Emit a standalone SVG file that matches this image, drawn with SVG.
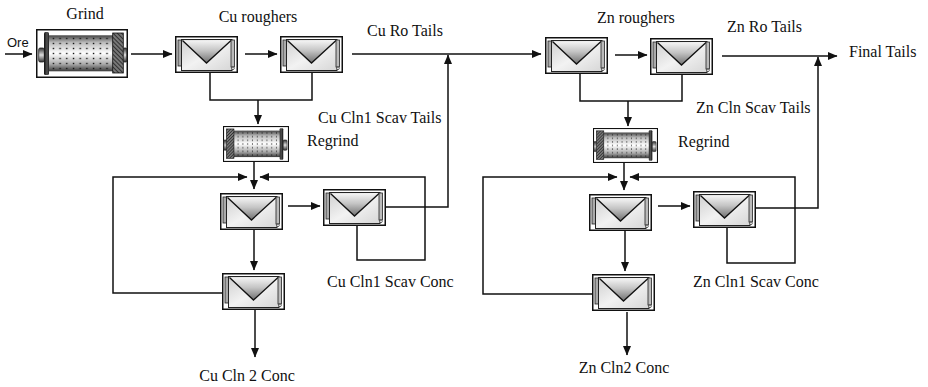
<svg xmlns="http://www.w3.org/2000/svg" width="928" height="387" viewBox="0 0 928 387">
<style>
 .t{font-family:"Liberation Serif","Times New Roman",serif;font-size:16px;fill:#111}
 .s{font-family:"Liberation Sans",Arial,sans-serif;font-size:13px;fill:#111}
 .c{fill:none;stroke:#111;stroke-width:1.5}
 .a{marker-end:url(#ah)}
</style>
<defs>
 <marker id="ah" markerWidth="10" markerHeight="8" refX="9" refY="4" orient="auto" markerUnits="userSpaceOnUse"><path d="M0,0 L9.5,4 L0,8 Z" fill="#111"/></marker>
 <linearGradient id="tank" x1="0" y1="0" x2="1" y2="1"><stop offset="0" stop-color="#cfcfcf"/><stop offset="0.5" stop-color="#f2f2f2"/><stop offset="1" stop-color="#d6d6d6"/></linearGradient>
 <linearGradient id="vee" x1="0" y1="0" x2="0" y2="1"><stop offset="0" stop-color="#f4f4f4"/><stop offset="0.45" stop-color="#c4c4c4"/><stop offset="1" stop-color="#6f6f6f"/></linearGradient>
 <linearGradient id="drum" x1="0" y1="0" x2="0" y2="1"><stop offset="0" stop-color="#444"/><stop offset="0.2" stop-color="#bbb"/><stop offset="0.5" stop-color="#fff"/><stop offset="0.8" stop-color="#aaa"/><stop offset="1" stop-color="#3a3a3a"/></linearGradient>
 <linearGradient id="flange" x1="0" y1="0" x2="1" y2="0"><stop offset="0" stop-color="#111"/><stop offset="0.6" stop-color="#555"/><stop offset="1" stop-color="#222"/></linearGradient>
 <linearGradient id="trun" x1="0" y1="0" x2="0" y2="1"><stop offset="0" stop-color="#333"/><stop offset="0.5" stop-color="#ddd"/><stop offset="1" stop-color="#333"/></linearGradient>
 <pattern id="dots" width="6.7" height="5" patternUnits="userSpaceOnUse" x="14" y="7"><rect x="2.7" y="1.8" width="1.4" height="1.4" fill="#111"/></pattern>
 <pattern id="hatch" width="3" height="3" patternUnits="userSpaceOnUse" patternTransform="rotate(-45)"><rect width="3" height="3" fill="#777"/><line x1="0" y1="0" x2="0" y2="3" stroke="#111" stroke-width="1.4"/></pattern>
 <symbol id="cell" viewBox="0 0 63 37">
  <rect x="0.75" y="0.75" width="61.5" height="35.5" fill="#fff" stroke="#111" stroke-width="1.5"/>
  <rect x="3" y="4" width="4" height="26" fill="#aaa" stroke="#222" stroke-width="0.8"/>
  <rect x="6.5" y="3.5" width="50.5" height="31" fill="url(#tank)" stroke="#222" stroke-width="1"/>
  <path d="M7.5,4.5 L31.5,27 L56,4.5 Z" fill="url(#vee)"/>
  <path d="M7.5,4.5 L31.5,27 L56,4.5" fill="none" stroke="#111" stroke-width="1.3"/>
  <rect x="56" y="4" width="3.5" height="27" fill="#bbb" stroke="#222" stroke-width="0.8"/>
  <circle cx="58" cy="32.3" r="1.3" fill="#fff" stroke="#222" stroke-width="0.7"/>
 </symbol>
 <symbol id="mill" viewBox="0 0 92 49" preserveAspectRatio="none">
  <rect x="0.75" y="0.75" width="90.5" height="47.5" fill="#fff" stroke="#111" stroke-width="1.5"/>
  <rect x="2.7" y="19" width="5.6" height="14" rx="1.5" fill="url(#trun)" stroke="#222" stroke-width="0.8"/>
  <rect x="12.5" y="6.3" width="64.5" height="36" fill="url(#drum)"/>
  <rect x="12.5" y="6.3" width="64.5" height="36" fill="url(#dots)"/>
  <rect x="8" y="3" width="5" height="43" rx="1.5" fill="url(#flange)"/>
  <rect x="76.7" y="4" width="10.6" height="40" fill="url(#hatch)" stroke="#111" stroke-width="0.8"/>
  <rect x="87.3" y="19" width="3.4" height="14" rx="1" fill="url(#trun)" stroke="#222" stroke-width="0.8"/>
 </symbol>
</defs>

<g id="connectors">
 <line class="c a" x1="5" y1="54" x2="32" y2="54"/>
 <line class="c a" x1="131" y1="54" x2="172" y2="54"/>
 <line class="c a" x1="245" y1="54" x2="277" y2="54"/>
 <line class="c a" x1="352" y1="54" x2="541" y2="54"/>
 <path class="c" d="M210,73 V100 H312 V73"/>
 <line class="c a" x1="258" y1="100" x2="258" y2="124"/>
 <line class="c a" x1="254" y1="162" x2="254" y2="189"/>
 <path class="c a" d="M222,293 H113 V177 H247"/>
 <path class="c a" d="M357,226 V260 H425 V177 H260"/>
 <line class="c a" x1="288" y1="206" x2="320" y2="206"/>
 <path class="c a" d="M386,207 H448 V55"/>
 <line class="c a" x1="254" y1="230" x2="254" y2="270"/>
 <line class="c a" x1="255" y1="310" x2="255" y2="357"/>

 <line class="c a" x1="615" y1="55" x2="647" y2="55"/>
 <line class="c a" x1="722" y1="56" x2="837" y2="56"/>
 <path class="c" d="M580,74 V101 H682 V75"/>
 <line class="c a" x1="628" y1="101" x2="628" y2="126"/>
 <line class="c a" x1="624" y1="163" x2="624" y2="190"/>
 <path class="c a" d="M592,294 H483 V177 H617"/>
 <path class="c a" d="M727,228 V263 H795 V177 H630"/>
 <line class="c a" x1="658" y1="206" x2="690" y2="206"/>
 <path class="c a" d="M756,208 H818 V57"/>
 <line class="c a" x1="625" y1="231" x2="625" y2="271"/>
 <line class="c a" x1="627" y1="312" x2="627" y2="355"/>
</g>

<g id="grind"><use href="#mill" x="36" y="29" width="92" height="49"/><text class="t" x="85" y="19" text-anchor="middle">Grind</text></g>
<g id="ore"><text class="s" x="7" y="47">Ore</text></g>
<g id="cu-rougher-1"><use href="#cell" x="175" y="36" width="63" height="37"/></g>
<g id="cu-rougher-2"><use href="#cell" x="280" y="36" width="63" height="37"/></g>
<g id="cu-roughers-label"><text class="t" x="258" y="22" text-anchor="middle">Cu roughers</text></g>
<g id="cu-ro-tails"><text class="t" x="367" y="36">Cu Ro Tails</text></g>
<g id="cu-regrind"><use href="#mill" transform="translate(289,126) scale(-1,1)" x="0" y="0" width="66" height="36"/><text class="t" x="307" y="146">Regrind</text></g>
<g id="cu-cln1-scav-tails"><text class="t" x="318" y="123">Cu Cln1 Scav Tails</text></g>
<g id="cu-cleaner-1"><use href="#cell" x="220" y="193" width="63" height="37"/></g>
<g id="cu-cln1-scav"><use href="#cell" x="323" y="189" width="63" height="37"/><text class="t" x="327" y="287">Cu Cln1 Scav Conc</text></g>
<g id="cu-cleaner-2"><use href="#cell" x="222" y="273" width="63" height="37"/><text class="t" x="247" y="381" text-anchor="middle">Cu Cln 2 Conc</text></g>

<g id="zn-rougher-1"><use href="#cell" x="545" y="37" width="63" height="37"/></g>
<g id="zn-rougher-2"><use href="#cell" x="650" y="38" width="63" height="37"/></g>
<g id="zn-roughers-label"><text class="t" x="597" y="23">Zn roughers</text></g>
<g id="zn-ro-tails"><text class="t" x="727" y="32">Zn Ro Tails</text></g>
<g id="final-tails"><text class="t" x="849" y="57">Final Tails</text></g>
<g id="zn-cln-scav-tails"><text class="t" x="696" y="113">Zn Cln Scav Tails</text></g>
<g id="zn-regrind"><use href="#mill" transform="translate(658,128) scale(-1,1)" x="0" y="0" width="65" height="35"/><text class="t" x="678" y="147">Regrind</text></g>
<g id="zn-cleaner-1"><use href="#cell" x="589" y="194" width="63" height="37"/></g>
<g id="zn-cln1-scav"><use href="#cell" x="693" y="191" width="63" height="37"/><text class="t" x="693" y="287">Zn Cln1 Scav Conc</text></g>
<g id="zn-cleaner-2"><use href="#cell" x="592" y="274" width="63" height="37"/><text class="t" x="624" y="373" text-anchor="middle">Zn Cln2 Conc</text></g>
</svg>
